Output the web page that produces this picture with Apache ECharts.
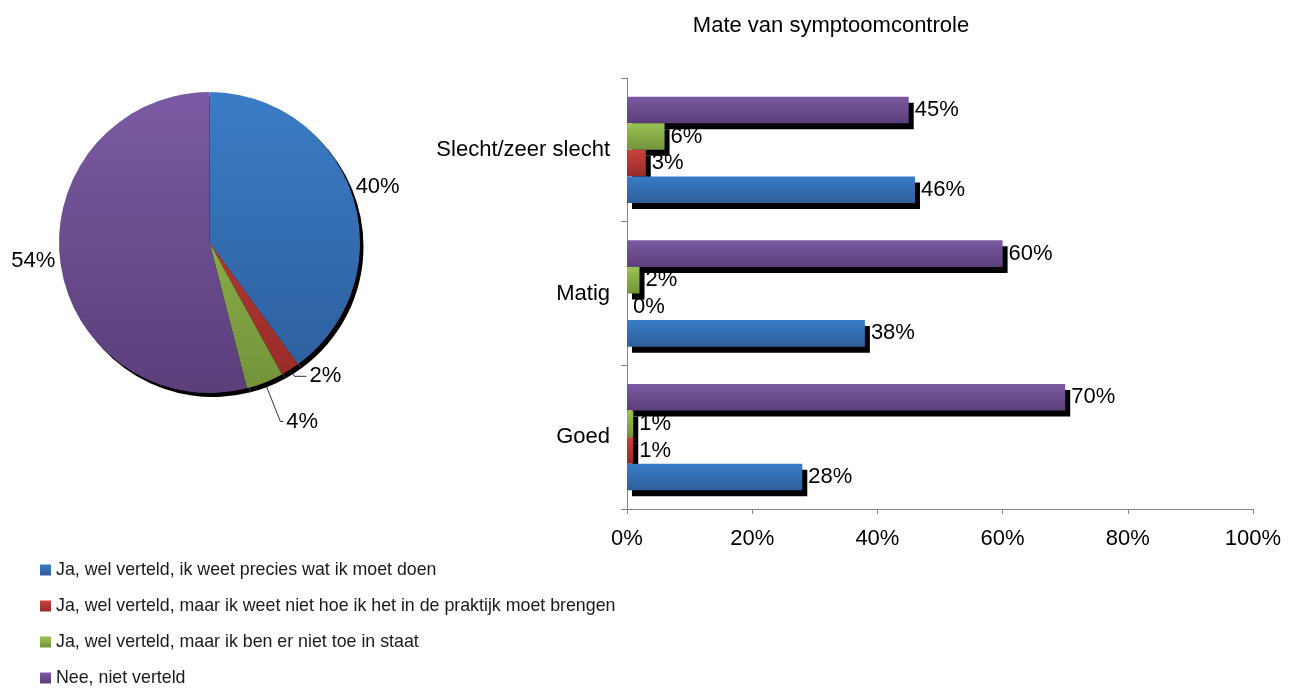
<!DOCTYPE html>
<html>
<head>
<meta charset="utf-8">
<script src="https://cdn.jsdelivr.net/npm/echarts@6/dist/echarts.min.js"></script>
<style>
  html,body{margin:0;padding:0;background:#fff;}
  #main{width:1293px;height:689px;}
</style>
</head>
<body>
<div id="main"></div>
<script>
// legend / series names
const seriesNames = [
  'Ja, wel verteld, ik weet precies wat ik moet doen',
  'Ja, wel verteld, maar ik weet niet hoe ik het in de praktijk moet brengen',
  'Ja, wel verteld, maar ik ben er niet toe in staat',
  'Nee, niet verteld'
]
// pie: totaal
const pieValues = [40, 2, 4, 54]
// bars: per mate van symptoomcontrole (bottom to top)
const categories = ['Goed', 'Matig', 'Slecht/zeer slecht']
const blueValues = [28, 38, 46]
const redValues = [1, 0, 3]
const greenValues = [1, 2, 6]
const purpleValues = [70, 60, 45]
const xTicks = [0, 20, 40, 60, 80, 100]

const FONT = "'Liberation Sans', Arial, sans-serif"

// excel-ish gradients (light top, dark bottom)
const grad = (top, bottom) => new echarts.graphic.LinearGradient(0, 0, 0, 1, [
  { offset: 0, color: top }, { offset: 1, color: bottom }
])
const pieGrad = (top, bottom) => ({
  type: 'linear', x: 0, y: 92, x2: 0, y2: 393, global: true,
  colorStops: [{ offset: 0, color: top }, { offset: 1, color: bottom }]
})
const colorPairs = [
  ['#3a7cc6', '#2d5e9b'],
  ['#c9433f', '#962b28'],
  ['#9cc352', '#73933a'],
  ['#7b5aa3', '#5b3e7a']
]

// label line lengths per pie slice [length, length2, show]
const pieLines = [[0, 0, false], [8, 12, true], [42, 3, true], [0, 2, false]]

var myChart = echarts.init(document.getElementById('main'))

const pieData = pieValues.map((v, i) => ({
  value: v,
  name: seriesNames[i],
  itemStyle: { color: pieGrad(colorPairs[i][0], colorPairs[i][1]) },
  labelLine: { show: pieLines[i][2], length: pieLines[i][0], length2: pieLines[i][1] }
}))

// purple first so it sits on top of each group, lower bars drawn over upper shadows
const barSeries = [blueValues, redValues, greenValues, purpleValues].map((vals, i) => ({
  name: seriesNames[i],
  type: 'bar',
  data: vals,
  barGap: '0%',
  barCategoryGap: '26%',
  itemStyle: {
    color: grad(colorPairs[i][0], colorPairs[i][1]),
    shadowColor: '#000',
    shadowBlur: 0,
    shadowOffsetX: 5,
    shadowOffsetY: 6
  },
  label: {
    show: true,
    position: 'right',
    distance: 6,
    formatter: '{c}%',
    color: '#000',
    fontSize: 22,
    fontFamily: FONT
  }
})).reverse()

var option = {
  animation: false,
  backgroundColor: '#fff',
  textStyle: { fontFamily: FONT },
  title: {
    text: 'Mate van symptoomcontrole',
    left: 826,
    textAlign: 'center',
    top: 10,
    textStyle: { fontSize: 22, fontWeight: 'normal', color: '#000', fontFamily: FONT }
  },
  legend: {
    orient: 'vertical',
    left: 40,
    top: 561,
    height: 200,
    padding: 0,
    itemWidth: 11,
    itemHeight: 11,
    itemGap: 18,
    icon: 'rect',
    data: seriesNames,
    textStyle: { fontSize: 17.8, lineHeight: 18, color: '#1a1a1a', fontFamily: FONT }
  },
  grid: { left: 627, right: 40, top: 78, bottom: 180, containLabel: false },
  xAxis: {
    type: 'value',
    min: xTicks[0],
    max: xTicks[xTicks.length - 1],
    interval: xTicks[1] - xTicks[0],
    axisLine: { show: true, lineStyle: { color: '#868686' } },
    axisTick: { show: true, length: 5, lineStyle: { color: '#868686' } },
    splitLine: { show: false },
    axisLabel: { formatter: '{value}%', fontSize: 22, color: '#000', margin: 19, fontFamily: FONT }
  },
  yAxis: {
    type: 'category',
    data: categories,
    axisLine: { show: true, lineStyle: { color: '#868686' } },
    axisTick: { show: true, length: 6, lineStyle: { color: '#868686' } },
    axisLabel: { fontSize: 22, color: '#000', margin: 17, fontFamily: FONT }
  },
  series: [
    {
      // drop shadow of the pie
      type: 'pie',
      silent: true,
      center: [213, 246.5],
      radius: 150.5,
      data: pieValues.map(v => ({ value: v })),
      itemStyle: { color: '#000' },
      label: { show: false },
      labelLine: { show: false },
      legendHoverLink: false
    },
    {
      name: 'totaal',
      type: 'pie',
      center: [209.5, 242.5],
      radius: 150.5,
      startAngle: 90,
      clockwise: true,
      avoidLabelOverlap: false,
      data: pieData,
      itemStyle: { borderWidth: 0 },
      label: {
        show: true,
        position: 'outside',
        formatter: '{c}%',
        fontSize: 22,
        color: '#000',
        fontFamily: FONT,
        distanceToLabelLine: 3
      },
      labelLine: { lineStyle: { color: '#333', width: 1 } },
      labelLayout: function (params) {
        if (params.dataIndex === 0) return { dy: -9 }
        return {}
      }
    }
  ].concat(barSeries)
}
myChart.setOption(option)
</script>
</body>
</html>
